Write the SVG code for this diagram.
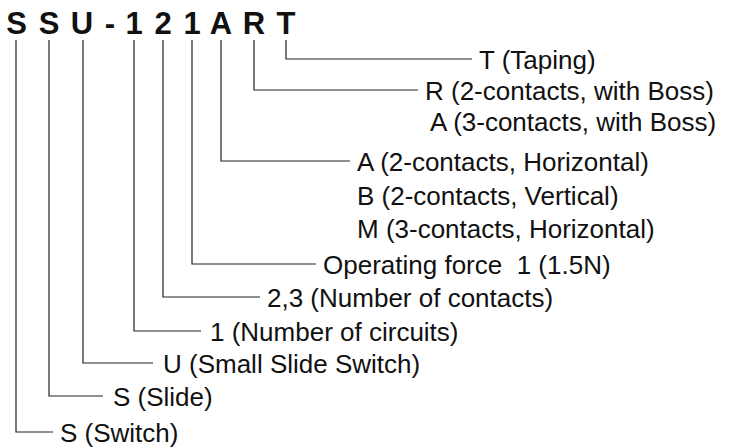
<svg xmlns="http://www.w3.org/2000/svg" width="729" height="448" viewBox="0 0 729 448">
<style>
.code{font-family:"Liberation Sans",Arial,sans-serif;font-size:31px;font-weight:bold;fill:#111;text-anchor:middle}
.lbl{font-family:"Liberation Sans",Arial,sans-serif;font-size:26px;fill:#111}
.con{fill:none;stroke:#222;stroke-width:1.2}
</style>
<rect width="729" height="448" fill="#fff"/>
<g id="code">
<text class="code" x="16.7 49 82 110 134 163 192 221 254 286" y="34">SSU-121ART</text>
</g>
<g id="connectors">
<path class="con" d="M286 40V59H472"/>
<path class="con" d="M254 40V90H418"/>
<path class="con" d="M221 40V161H350"/>
<path class="con" d="M192 40V264H316"/>
<path class="con" d="M163 40V297H260"/>
<path class="con" d="M134 40V331H201"/>
<path class="con" d="M83 40V363H153"/>
<path class="con" d="M49 40V396H103"/>
<path class="con" d="M16 40V432H53"/>
</g>
<g id="n-taping"><text class="lbl" x="479" y="68.5">T (Taping)</text></g>
<g id="n-r"><text class="lbl" x="425" y="99.5">R (2-contacts, with Boss)</text></g>
<g id="n-a3"><text class="lbl" x="430" y="131">A (3-contacts, with Boss)</text></g>
<g id="n-a2"><text class="lbl" x="357" y="171">A (2-contacts, Horizontal)</text></g>
<g id="n-b"><text class="lbl" x="357" y="204.5">B (2-contacts, Vertical)</text></g>
<g id="n-m"><text class="lbl" x="357" y="238">M (3-contacts, Horizontal)</text></g>
<g id="n-force"><text class="lbl" x="323" y="273.5" xml:space="preserve">Operating force  1 (1.5N)</text></g>
<g id="n-contacts"><text class="lbl" x="267" y="306.5">2,3 (Number of contacts)</text></g>
<g id="n-circuits"><text class="lbl" x="210" y="340.5">1 (Number of circuits)</text></g>
<g id="n-small"><text class="lbl" x="163" y="372.5">U (Small Slide Switch)</text></g>
<g id="n-slide"><text class="lbl" x="113" y="405.5">S (Slide)</text></g>
<g id="n-switch"><text class="lbl" x="60" y="441.5">S (Switch)</text></g>
</svg>
